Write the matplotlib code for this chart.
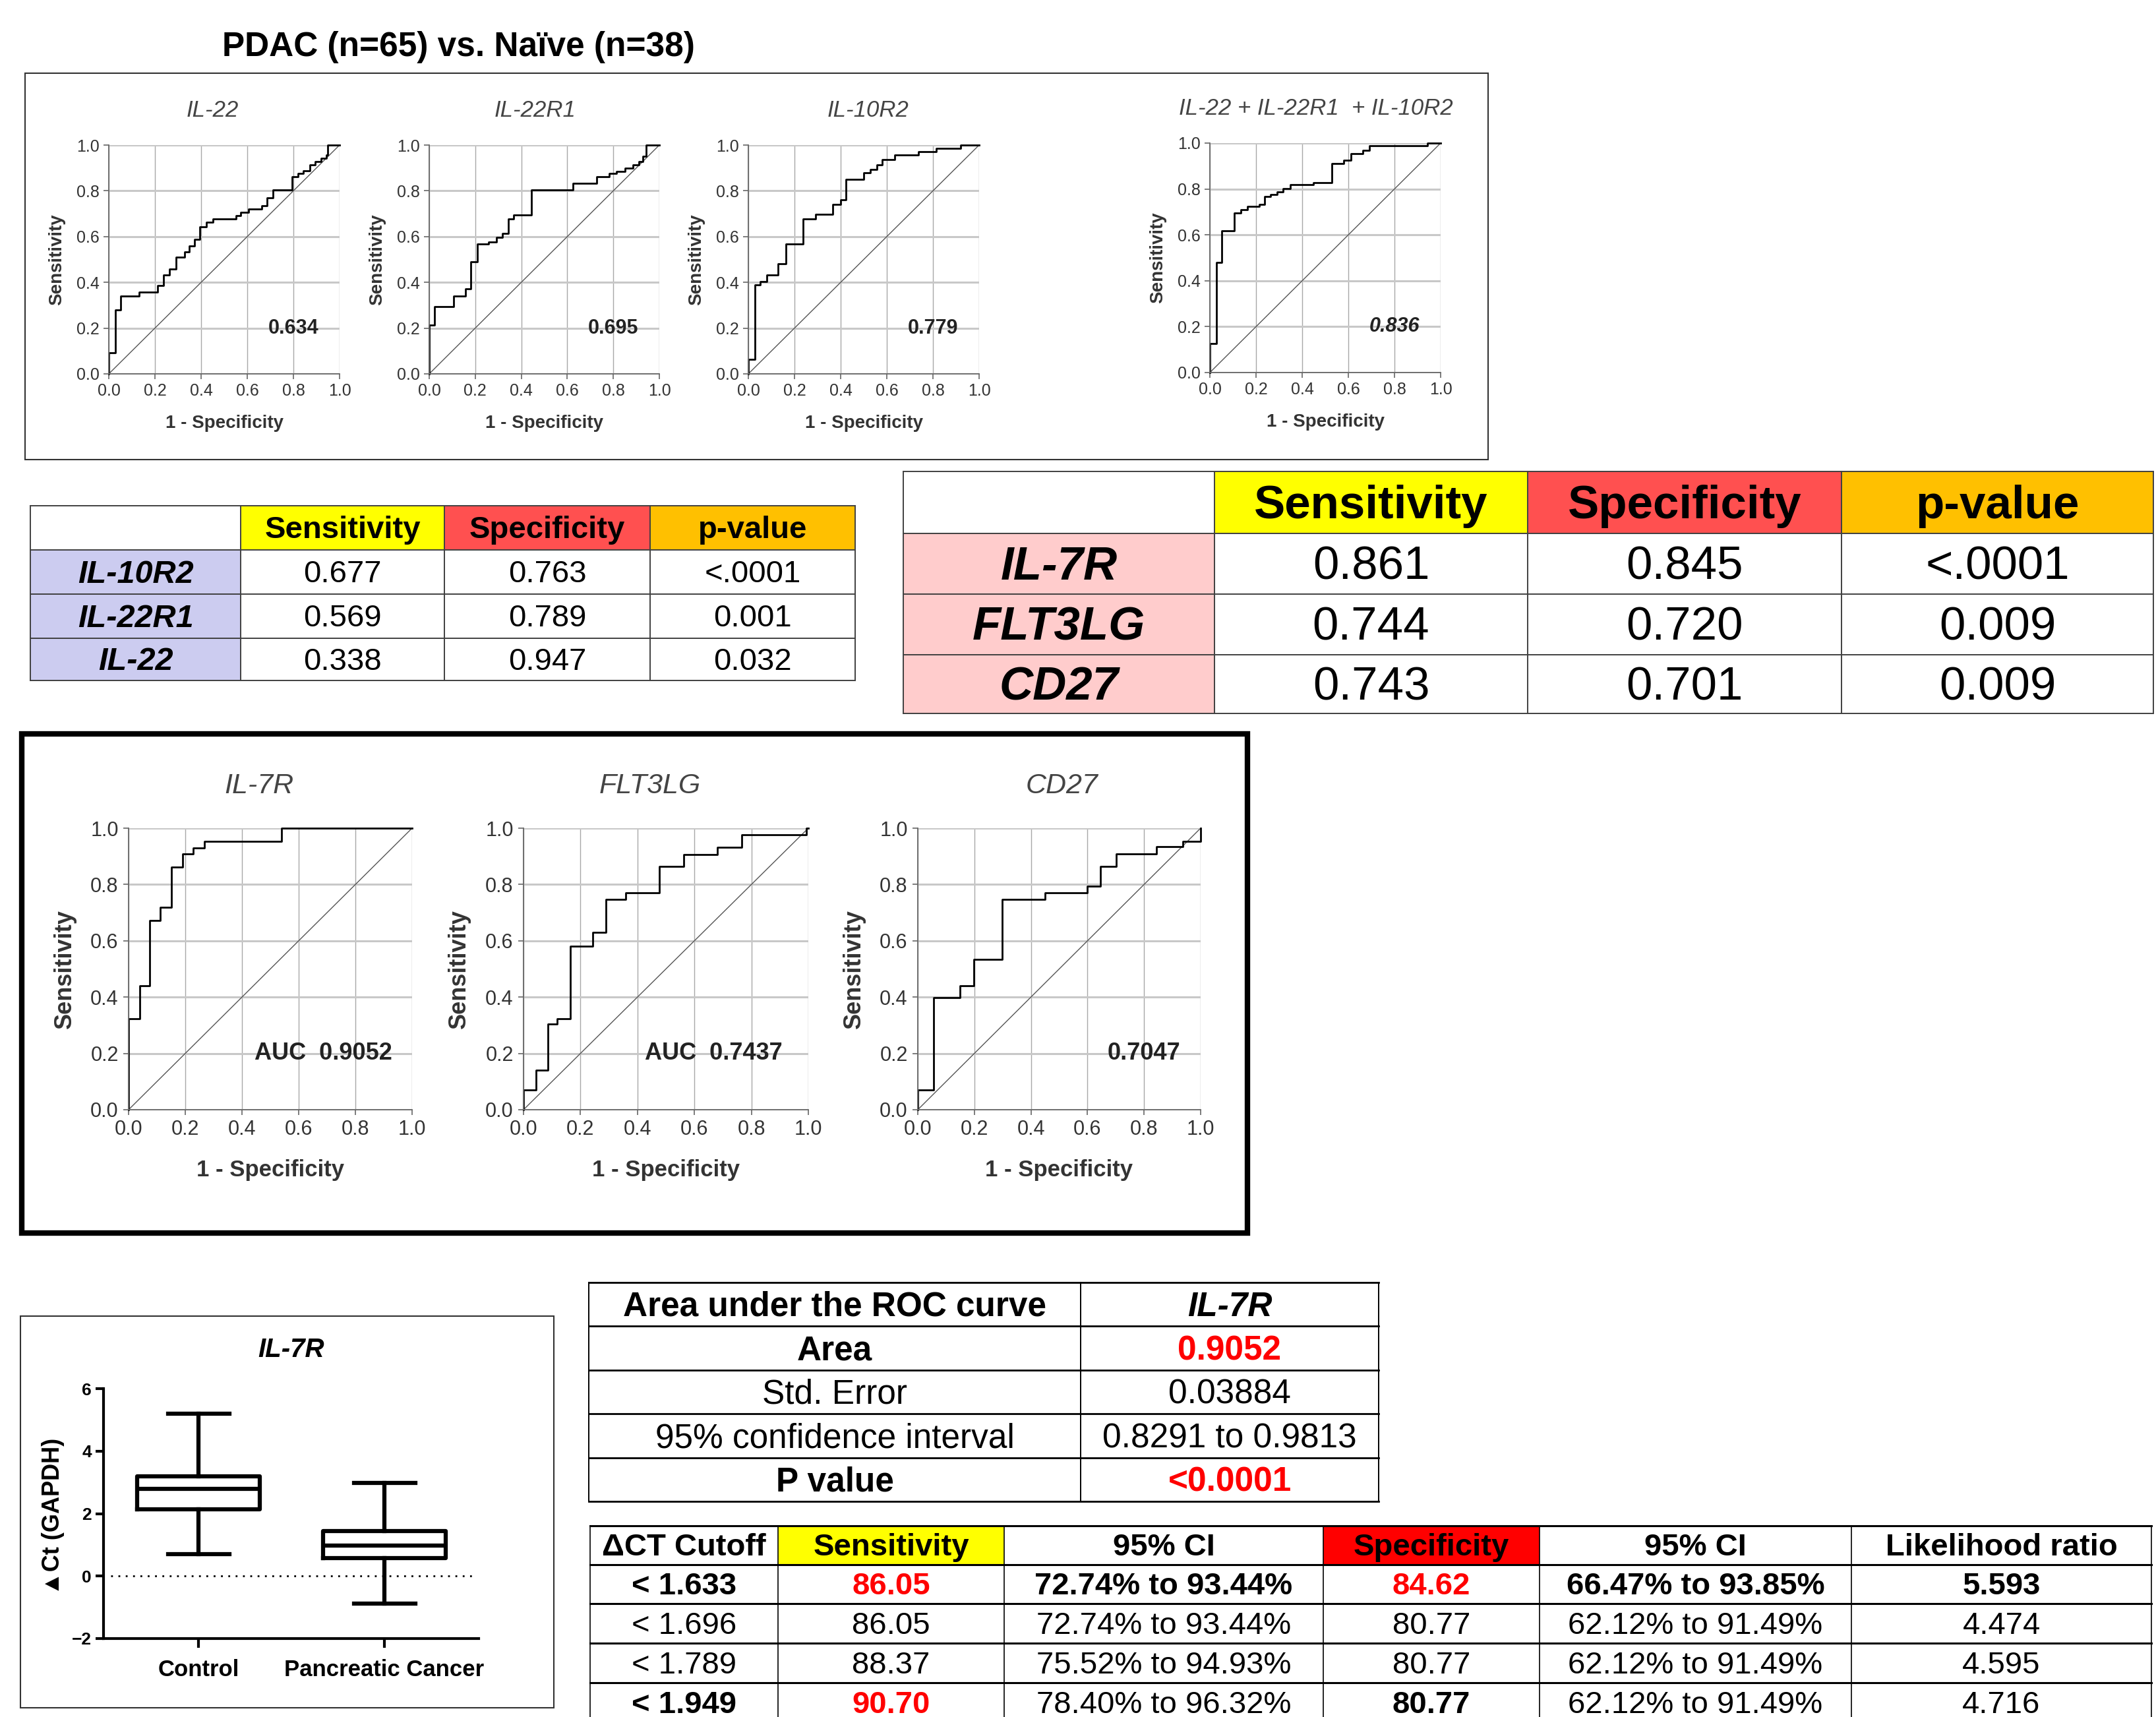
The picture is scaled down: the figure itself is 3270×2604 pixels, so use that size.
import matplotlib
matplotlib.use('Agg')
import matplotlib.pyplot as plt
from matplotlib.patches import Rectangle

plt.rcParams['font.family'] = ['Liberation Sans', 'DejaVu Sans']

W, H = 3270, 2604

# ---------------- ROC data (1 - specificity, sensitivity), step corners ----------------
il22_fpr = [0, 0, 0.029, 0.052, 0.131, 0.212, 0.238, 0.262, 0.290, 0.329, 0.348, 0.371, 0.395,
            0.424, 0.452, 0.552, 0.571, 0.605, 0.662, 0.686, 0.710, 0.795, 0.819, 0.843, 0.871,
            0.895, 0.919, 0.943, 0.948, 1.0]
il22_tpr = [0, 0.093, 0.279, 0.341, 0.358, 0.387, 0.433, 0.457, 0.510, 0.534, 0.558, 0.587, 0.644,
            0.663, 0.678, 0.692, 0.707, 0.721, 0.736, 0.769, 0.803, 0.861, 0.875, 0.889, 0.913,
            0.928, 0.942, 0.957, 1.0, 1.0]

il22r1_fpr = [0, 0, 0.024, 0.105, 0.158, 0.181, 0.210, 0.258, 0.291, 0.319, 0.343, 0.367, 0.443,
              0.624, 0.729, 0.781, 0.814, 0.852, 0.886, 0.910, 0.929, 0.943, 1.0]
il22r1_tpr = [0, 0.213, 0.293, 0.341, 0.373, 0.490, 0.567, 0.577, 0.596, 0.615, 0.678, 0.694, 0.803,
              0.832, 0.861, 0.875, 0.885, 0.899, 0.913, 0.928, 0.952, 1.0, 1.0]

il10r2_fpr = [0, 0, 0.029, 0.052, 0.081, 0.129, 0.162, 0.238, 0.290, 0.367, 0.400, 0.424, 0.500,
              0.529, 0.557, 0.581, 0.633, 0.738, 0.814, 0.919, 1.0]
il10r2_tpr = [0, 0.063, 0.389, 0.404, 0.433, 0.481, 0.567, 0.678, 0.697, 0.740, 0.760, 0.851, 0.880,
              0.894, 0.913, 0.938, 0.957, 0.971, 0.986, 1.0, 1.0]

combo_fpr = [0, 0, 0.029, 0.052, 0.107, 0.133, 0.162, 0.214, 0.238, 0.262, 0.290, 0.317, 0.348,
             0.448, 0.529, 0.581, 0.610, 0.662, 0.690, 0.943, 1.0]
combo_tpr = [0, 0.127, 0.481, 0.618, 0.695, 0.710, 0.724, 0.734, 0.767, 0.777, 0.786, 0.801, 0.820,
             0.829, 0.911, 0.925, 0.954, 0.969, 0.988, 1.0, 1.0]

il7r_fpr = [0, 0, 0.039, 0.074, 0.112, 0.151, 0.190, 0.229, 0.267, 0.539, 1.0]
il7r_tpr = [0, 0.324, 0.441, 0.673, 0.720, 0.861, 0.908, 0.930, 0.953, 1.0, 1.0]

flt3lg_fpr = [0, 0, 0.044, 0.086, 0.117, 0.164, 0.242, 0.289, 0.359, 0.477, 0.563, 0.680, 0.766,
              0.992, 1.0]
flt3lg_tpr = [0, 0.070, 0.141, 0.305, 0.324, 0.580, 0.629, 0.746, 0.770, 0.863, 0.906, 0.931, 0.977,
              1.0, 1.0]

cd27_fpr = [0, 0, 0.055, 0.150, 0.197, 0.299, 0.449, 0.598, 0.646, 0.701, 0.843, 0.937, 1.0]
cd27_tpr = [0, 0.070, 0.398, 0.441, 0.535, 0.746, 0.770, 0.793, 0.863, 0.908, 0.934, 0.953, 1.0]

top_names = ['IL-22', 'IL-22R1', 'IL-10R2', 'IL-22 + IL-22R1  + IL-10R2']
top_auc = ['0.634', '0.695', '0.779', '0.836']
mid_names = ['IL-7R', 'FLT3LG', 'CD27']
mid_auc = ['AUC  0.9052', 'AUC  0.7437', '0.7047']

# ---------------- box plot (IL-7R delta Ct) ----------------
box_groups = ['Control', 'Pancreatic Cancer']
box_whislo = [0.70, -0.88]
box_q1 = [2.14, 0.57]
box_med = [2.80, 0.97]
box_q3 = [3.20, 1.45]
box_whishi = [5.19, 2.98]

# ---------------- tables ----------------
t1_cols = ['Sensitivity', 'Specificity', 'p-value']
t1_genes = ['IL-10R2', 'IL-22R1', 'IL-22']
t1_sens = ['0.677', '0.569', '0.338']
t1_spec = ['0.763', '0.789', '0.947']
t1_p = ['<.0001', '0.001', '0.032']

t2_genes = ['IL-7R', 'FLT3LG', 'CD27']
t2_sens = ['0.861', '0.744', '0.743']
t2_spec = ['0.845', '0.720', '0.701']
t2_p = ['<.0001', '0.009', '0.009']

auc_labels = ['Area', 'Std. Error', '95% confidence interval', 'P value']
auc_values = ['0.9052', '0.03884', '0.8291 to 0.9813', '<0.0001']

cut_cols = ['ΔCT Cutoff', 'Sensitivity', '95% CI', 'Specificity', '95% CI', 'Likelihood ratio']
cut_vals = ['< 1.633', '< 1.696', '< 1.789', '< 1.949']
cut_sens = ['86.05', '86.05', '88.37', '90.70']
cut_sens_ci = ['72.74% to 93.44%', '72.74% to 93.44%', '75.52% to 94.93%', '78.40% to 96.32%']
cut_spec = ['84.62', '80.77', '80.77', '80.77']
cut_spec_ci = ['66.47% to 93.85%', '62.12% to 91.49%', '62.12% to 91.49%', '62.12% to 91.49%']
cut_lr = ['5.593', '4.474', '4.595', '4.716']


def rect(x0, y0, x1, y1):
    # 像素座標 -> figure 座標
    return [x0 / W, 1 - y1 / H, (x1 - x0) / W, (y1 - y0) / H]


fig = plt.figure(figsize=(W / 100, H / 100), dpi=100)

ov = fig.add_axes([0, 0, 1, 1])
ov.set_xlim(0, W)
ov.set_ylim(H, 0)
ov.axis('off')

# panel frames
ov.add_patch(Rectangle((38, 111), 2219, 586, fill=False, ec='#333333', lw=1.5))
ov.add_patch(Rectangle((33, 1113), 1859, 757, fill=False, ec='black', lw=6))
ov.add_patch(Rectangle((31, 1996), 809, 594, fill=False, ec='#333333', lw=1.5))

ov.text(695, 72, 'PDAC (n=65) vs. Naïve (n=38)', ha='center', va='center',
        fontsize=37, fontweight='bold')


def roc_panel(r, fpr, tpr, title, auc, title_x, auc_x, big=False, auc_italic=False):
    ax = fig.add_axes(r)
    ax.set_xlim(0, 1)
    ax.set_ylim(0, 1)
    ticks = [0, 0.2, 0.4, 0.6, 0.8, 1.0]
    ax.set_xticks(ticks)
    ax.set_yticks(ticks)
    ax.set_xticklabels(['%.1f' % t for t in ticks])
    ax.set_yticklabels(['%.1f' % t for t in ticks])
    ax.grid(axis='y', color='#c8c8c8', lw=2.2)
    ax.grid(axis='x', color='#a8a8a8', lw=1.0)
    ax.set_axisbelow(True)
    for s in ['top', 'right']:
        ax.spines[s].set_visible(False)
    for s in ['left', 'bottom']:
        ax.spines[s].set_color('#666666')
        ax.spines[s].set_linewidth(1.3)
    fs = 22 if big else 18
    ax.tick_params(length=6, width=1.2, color='#666666', labelsize=fs, labelcolor='#333333',
                   pad=5 if big else 4)
    ax.plot([0, 1], [0, 1], color='#555555', lw=1.0)
    ax.plot(fpr, tpr, drawstyle='steps-post', color='black', lw=2.0, clip_on=False)
    ax.text(title_x, 1.15, title, transform=ax.transAxes, ha='center', va='center',
            fontsize=31 if big else 25, style='italic', color='#444444')
    ax.text(auc_x, 0.20, auc, transform=ax.transAxes, ha='center', va='center',
            fontsize=26 if big else 22, fontweight='bold', color='#222222',
            style='italic' if auc_italic else 'normal')
    ax.text(0.5, -0.215, '1 - Specificity', transform=ax.transAxes, ha='center', va='center',
            fontsize=25 if big else 20, fontweight='bold', color='#333333')
    ax.text(-0.225, 0.5, 'Sensitivity', transform=ax.transAxes, ha='center', va='center',
            rotation=90, fontsize=26 if big else 20, fontweight='bold', color='#333333')
    return ax


top_rects = [(165, 220, 515, 567), (651, 220, 1000, 567), (1135, 220, 1485, 567),
             (1835, 217, 2185, 565)]
top_data = [(il22_fpr, il22_tpr), (il22r1_fpr, il22r1_tpr), (il10r2_fpr, il10r2_tpr),
            (combo_fpr, combo_tpr)]
top_title_x = [0.45, 0.46, 0.52, 0.46]
for i in range(4):
    roc_panel(rect(*top_rects[i]), top_data[i][0], top_data[i][1], top_names[i], top_auc[i],
              top_title_x[i], 0.80, auc_italic=(i == 3))

mid_rects = [(195, 1256, 625, 1683), (794, 1256, 1226, 1683), (1392, 1256, 1821, 1683)]
mid_data = [(il7r_fpr, il7r_tpr), (flt3lg_fpr, flt3lg_tpr), (cd27_fpr, cd27_tpr)]
mid_title_x = [0.46, 0.445, 0.51]
mid_auc_x = [0.686, 0.667, 0.80]
for i in range(3):
    roc_panel(rect(*mid_rects[i]), mid_data[i][0], mid_data[i][1], mid_names[i], mid_auc[i],
              mid_title_x[i], mid_auc_x[i], big=True)

# ---------------- box plot ----------------
bx = fig.add_axes(rect(157, 2106, 726, 2485))
stats = []
for i in range(2):
    stats.append(dict(med=box_med[i], q1=box_q1[i], q3=box_q3[i], whislo=box_whislo[i],
                      whishi=box_whishi[i], fliers=[], label=box_groups[i]))
lp = dict(color='black', lw=4.5)
bx.bxp(stats, positions=[1, 2], widths=0.66, capwidths=0.33, showfliers=False,
       boxprops=lp, whiskerprops=lp, capprops=lp, medianprops=lp)
bx.set_xlim(0.489, 2.507)
bx.set_ylim(-2, 6)
bx.set_yticks([-2, 0, 2, 4, 6])
bx.axhline(0, xmin=0.02, xmax=0.985, color='black', lw=2, ls=(0, (1, 3)))
for s in ['top', 'right']:
    bx.spines[s].set_visible(False)
for s in ['left', 'bottom']:
    bx.spines[s].set_linewidth(3)
bx.tick_params(axis='y', length=9, width=3, labelsize=19, pad=4)
bx.tick_params(axis='x', length=10, width=3, labelsize=25, pad=12)
for lab in bx.get_xticklabels() + bx.get_yticklabels():
    lab.set_fontweight('bold')
bx.text(0.5, 1.155, 'IL-7R', transform=bx.transAxes, ha='center', va='center',
        fontsize=29, fontweight='bold', style='italic')
bx.text(-0.134, 0.488, '▲Ct (GAPDH)', transform=bx.transAxes, ha='center', va='center',
        rotation=90, fontsize=26, fontweight='bold')


# ---------------- tables (drawn in pixel space) ----------------
def grid(xe, ye, lw_h=1.5, lw_v=1.5, color='black'):
    for y in ye:
        ov.plot([xe[0], xe[-1]], [y, y], color=color, lw=lw_h, solid_capstyle='projecting')
    for x in xe:
        ov.plot([x, x], [ye[0], ye[-1]], color=color, lw=lw_v)


def fill(xe, ye, r, c, color):
    ov.add_patch(Rectangle((xe[c], ye[r]), xe[c + 1] - xe[c], ye[r + 1] - ye[r],
                           fc=color, ec='none', zorder=0))


def cell(xe, ye, r, c, txt, fs, **kw):
    # 文字略為下移，對齊參考圖中的位置
    ov.text((xe[c] + xe[c + 1]) / 2, (ye[r] + ye[r + 1]) / 2 + fs * 0.11, txt, ha='center',
            va='center', fontsize=fs, **kw)


# small table
xe1 = [46, 365, 674, 986, 1297]
ye1 = [767, 834, 901, 968, 1032]
hdr1 = ['#FFFF00', '#FF5050', '#FFC000']
for c in range(3):
    fill(xe1, ye1, 0, c + 1, hdr1[c])
    cell(xe1, ye1, 0, c + 1, t1_cols[c], 34, fontweight='bold')
for r in range(3):
    fill(xe1, ye1, r + 1, 0, '#CCCCF0')
    cell(xe1, ye1, r + 1, 0, t1_genes[r], 35, fontweight='bold', style='italic')
    cell(xe1, ye1, r + 1, 1, t1_sens[r], 34)
    cell(xe1, ye1, r + 1, 2, t1_spec[r], 34)
    cell(xe1, ye1, r + 1, 3, t1_p[r], 34)
grid(xe1, ye1, 1.4, 1.4, '#404040')

# big table
xe2 = [1370, 1842, 2317, 2793, 3266]
ye2 = [715, 809, 901, 993, 1082]
for c in range(3):
    fill(xe2, ye2, 0, c + 1, hdr1[c])
    cell(xe2, ye2, 0, c + 1, t1_cols[c], 51, fontweight='bold')
for r in range(3):
    fill(xe2, ye2, r + 1, 0, '#FFCCCC')
    cell(xe2, ye2, r + 1, 0, t2_genes[r], 51, fontweight='bold', style='italic')
    cell(xe2, ye2, r + 1, 1, t2_sens[r], 51)
    cell(xe2, ye2, r + 1, 2, t2_spec[r], 51)
    cell(xe2, ye2, r + 1, 3, t2_p[r], 51)
grid(xe2, ye2, 1.4, 1.4, '#404040')

# AUC table
xe3 = [893, 1639, 2091]
ye3 = [1945, 2011, 2078, 2144, 2211, 2277]
cell(xe3, ye3, 0, 0, 'Area under the ROC curve', 37, fontweight='bold')
cell(xe3, ye3, 0, 1, 'IL-7R', 37, fontweight='bold', style='italic')
for r in range(4):
    key = r in (0, 3)
    cell(xe3, ye3, r + 1, 0, auc_labels[r], 37, fontweight='bold' if key else 'normal')
    cell(xe3, ye3, r + 1, 1, auc_values[r], 37, fontweight='bold' if key else 'normal',
         color='#FF0000' if key else 'black')
grid(xe3, ye3, 2.0, 1.4)

# cutoff table
xe4 = [895, 1180, 1523, 2007, 2335, 2808, 3263]
ye4 = [2314, 2373, 2432, 2492, 2552, 2612]
fill(xe4, ye4, 0, 1, '#FFFF00')
fill(xe4, ye4, 0, 3, '#FF0000')
for c in range(6):
    cell(xe4, ye4, 0, c, cut_cols[c], 34, fontweight='bold')
bold_cells = {0: [0, 1, 2, 3, 4, 5], 3: [0, 1, 3]}
red_cells = {0: [1, 3], 3: [1]}
for r in range(4):
    row = [cut_vals[r], cut_sens[r], cut_sens_ci[r], cut_spec[r], cut_spec_ci[r], cut_lr[r]]
    for c in range(6):
        cell(xe4, ye4, r + 1, c, row[c], 34,
             fontweight='bold' if c in bold_cells.get(r, []) else 'normal',
             color='#FF0000' if c in red_cells.get(r, []) else 'black')
grid(xe4, ye4, 2.2, 1.2)

fig.savefig('out.png', dpi=100)
